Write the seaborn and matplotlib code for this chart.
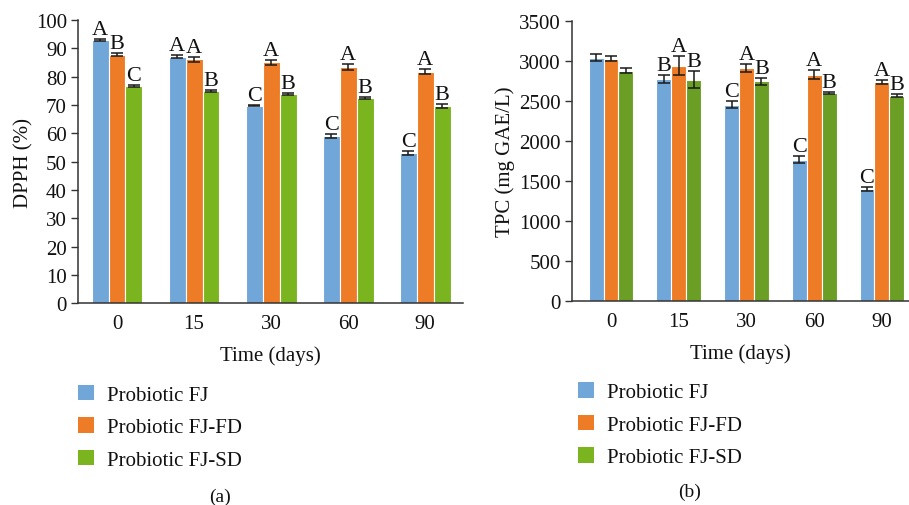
import pandas as pd
import matplotlib.pyplot as plt
import seaborn as sns
from matplotlib.patches import Patch

days = ["0", "15", "30", "60", "90"]
samples = ["Probiotic FJ", "Probiotic FJ-FD", "Probiotic FJ-SD"]

# DPPH (%) per sample, one value per day
dpph_fj = [92.9, 87.1, 69.8, 59.2, 53.1]
dpph_fd = [87.8, 86.1, 85.1, 83.5, 81.7]
dpph_sd = [76.6, 75.0, 74.0, 72.6, 69.7]
dpph_err_fj = [0.3, 0.6, 0.3, 0.7, 0.8]
dpph_err_fd = [0.4, 0.8, 0.9, 1.0, 0.9]
dpph_err_sd = [0.3, 0.4, 0.4, 0.4, 0.8]
dpph_let_fj = ["A", "A", "C", "C", "C"]
dpph_let_fd = ["B", "A", "A", "A", "A"]
dpph_let_sd = ["C", "B", "B", "B", "B"]

# TPC (mg GAE/L)
tpc_fj = [3042, 2779, 2454, 1767, 1400]
tpc_fd = [3029, 2942, 2913, 2829, 2738]
tpc_sd = [2879, 2767, 2746, 2600, 2567]
tpc_err_fj = [45, 50, 45, 45, 30]
tpc_err_fd = [30, 115, 50, 55, 25]
tpc_err_sd = [30, 110, 45, 15, 15]
tpc_let_fj = ["", "B", "C", "C", "C"]
tpc_let_fd = ["", "A", "A", "A", "A"]
tpc_let_sd = ["", "B", "B", "B", "B"]

colors_a = ["#71A6D8", "#EE7C26", "#7AB51F"]
colors_b = ["#71A6D8", "#EE7C26", "#6B9E25"]

FS = 15


def long_df(vals):
    rows = []
    for s, v in zip(samples, vals):
        for d, x in zip(days, v):
            rows.append({"day": d, "sample": s, "value": x})
    return pd.DataFrame(rows)


def draw_panel(ax, vals, errs, letters, colors, ylim, yticks, ylabel, ylabelpad):
    df = long_df(vals)
    sns.barplot(data=df, x="day", y="value", hue="sample", order=days,
                hue_order=samples, palette=colors, width=0.66, errorbar=None,
                saturation=1, edgecolor="white", linewidth=0.8, legend=False,
                ax=ax)
    for cont, err, let in zip(ax.containers, errs, letters):
        for bar, e, l in zip(cont, err, let):
            xc = bar.get_x() + bar.get_width() / 2
            h = bar.get_height()
            ax.errorbar(xc, h, yerr=e, fmt="none", ecolor="#1a1a1a",
                        elinewidth=1.1, capsize=4, capthick=1.1)
            if l:
                ax.annotate(l, (xc, h + e), xytext=(0, 0),
                            textcoords="offset points", ha="center",
                            va="bottom", fontsize=16, color="#111111")
    ax.set_ylim(*ylim)
    ax.set_yticks(yticks)
    ax.set_ylabel(ylabel, fontsize=FS, labelpad=ylabelpad)
    ax.set_xlabel("Time (days)", fontsize=FS, labelpad=9)
    ax.tick_params(axis="x", length=0, pad=8, labelsize=FS)
    ax.tick_params(axis="y", length=5, width=1, labelsize=FS, pad=3)
    for side in ["top", "right"]:
        ax.spines[side].set_visible(False)
    for side in ["left", "bottom"]:
        ax.spines[side].set_color("#333333")
        ax.spines[side].set_linewidth(1.1)


sns.set_style("ticks")
plt.rcParams["font.family"] = ["Liberation Serif", "DejaVu Serif"]
plt.rcParams["text.color"] = "#111111"
plt.rcParams["axes.labelcolor"] = "#111111"
plt.rcParams["xtick.color"] = "#111111"
plt.rcParams["ytick.color"] = "#333333"
plt.rcParams["ytick.labelcolor"] = "#111111"

fig = plt.figure(figsize=(9.09, 5.06), dpi=100)
ax1 = fig.add_axes([0.0858, 0.399, 0.4235, 0.5593])
ax2 = fig.add_axes([0.6293, 0.403, 0.3707, 0.5535])

draw_panel(ax1, [dpph_fj, dpph_fd, dpph_sd],
           [dpph_err_fj, dpph_err_fd, dpph_err_sd],
           [dpph_let_fj, dpph_let_fd, dpph_let_sd],
           colors_a, (0, 100), range(0, 101, 10), "DPPH (%)", 1.5)
ax1.set_xlim(-0.506, 4.49)

draw_panel(ax2, [tpc_fj, tpc_fd, tpc_sd],
           [tpc_err_fj, tpc_err_fd, tpc_err_sd],
           [tpc_let_fj, tpc_let_fd, tpc_let_sd],
           colors_b, (0, 3500), range(0, 3501, 500), "TPC (mg GAE/L)", 3)
ax2.set_xlim(-0.576, 4.4)

leg_colors = ["#71A6D8", "#EE7C26", "#7AB51F"]
handles = [Patch(facecolor=c, edgecolor="none") for c in leg_colors]
for x0, y0 in [(0.086, 0.238), (0.636, 0.243)]:
    fig.legend(handles, samples, loc="upper left", bbox_to_anchor=(x0, y0),
               frameon=False, fontsize=FS, borderpad=0, borderaxespad=0,
               handlelength=0.78, handleheight=0.78, handletextpad=0.6,
               labelspacing=0.6)

fig.text(220 / 909, 1 - 497 / 506, "(a)", ha="center", va="center", fontsize=14)
fig.text(690 / 909, 1 - 492 / 506, "(b)", ha="center", va="center", fontsize=14)

fig.savefig("out.png", dpi=100)
